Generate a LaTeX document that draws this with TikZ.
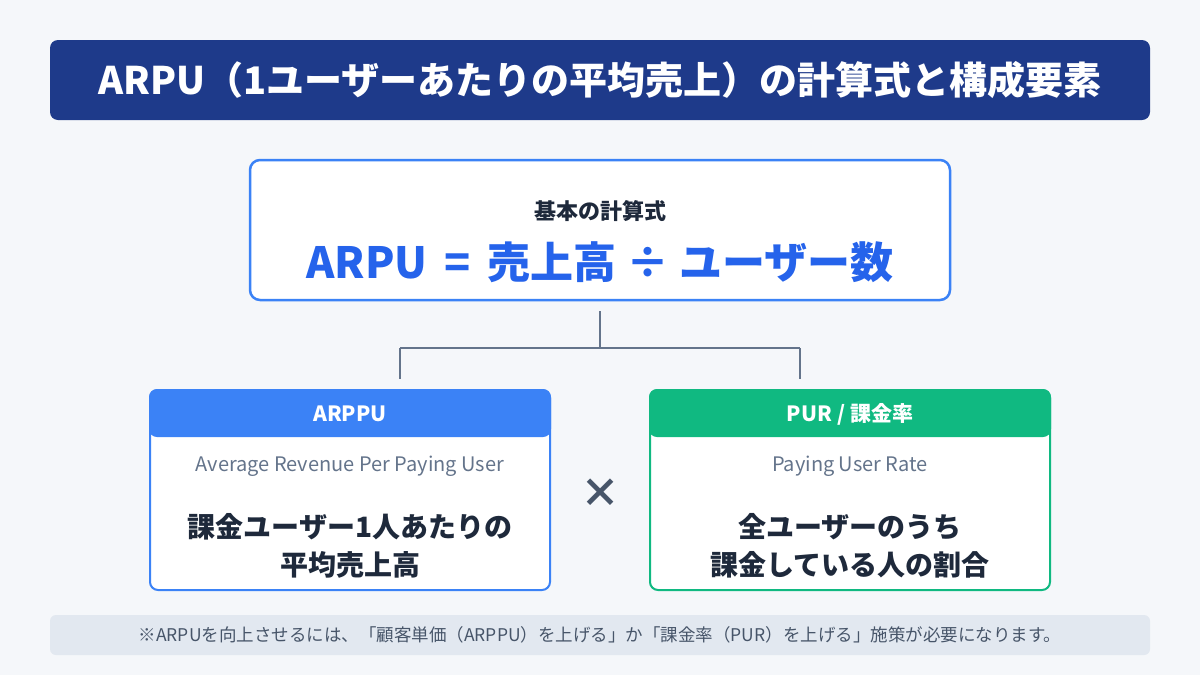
\documentclass[tikz,border=0pt]{standalone}
\usepackage{fontspec}
\setmainfont{Noto Sans CJK JP}
\usetikzlibrary{positioning}
\definecolor{PageBg}{HTML}{F5F7FA}
\definecolor{TitleBg}{HTML}{1E3A8A}
\definecolor{ArpuBlue}{HTML}{3B82F6}
\definecolor{FormulaBlue}{HTML}{2563EB}
\definecolor{PurGreen}{HTML}{10B981}
\definecolor{InkDark}{HTML}{1E293B}
\definecolor{InkGray}{HTML}{64748B}
\definecolor{NoteBg}{HTML}{E2E8F0}
\definecolor{NoteInk}{HTML}{475569}
\newcommand{\fs}[1]{\fontsize{#1}{#1}\selectfont}
\tikzset{
  panel/.style={draw=#1, line width=2pt, fill=white, rounded corners=8pt,
    minimum width=400pt, minimum height=200pt, inner sep=0pt},
  head/.style={text=white, font=\fs{21}\bfseries},
  sub/.style={text=InkGray, font=\fs{20}},
  body/.style={text=InkDark, font=\fs{28}\bfseries, align=center},
  link/.style={draw=InkGray, line width=2.5pt}
}
\begin{document}
\begin{tikzpicture}[x=1pt,y=-1pt]
  \fill[PageBg] (0,0) rectangle (1200,675);
  \useasboundingbox (0,0) rectangle (1200,675);

  % title bar
  \fill[TitleBg, rounded corners=8pt] (50,40) rectangle (1150,120);
  \node[text=white, font=\fs{38}\bfseries] (title) at (600,80)
    {ARPU（1ユーザーあたりの平均売上）の計算式と構成要素};

  % formula box
  \node[draw=ArpuBlue, line width=2.5pt, fill=white, rounded corners=10pt,
    minimum width=700pt, minimum height=140pt] (formula) at (600,230) {};
  \node[text=InkDark, font=\fs{22}\bfseries] (basic) at (600,211) {基本の計算式};
  \node[text=FormulaBlue, font=\fs{43}\bfseries] (eq) at (600,262)
    {ARPU \,=\, 売上高 ÷ ユーザー数};

  % panels
  \node[panel=ArpuBlue] (arppu) at (350,490) {};
  \node[panel=PurGreen] (pur) at (850,490) {};
  \fill[ArpuBlue, rounded corners=8pt] (arppu.north west) rectangle ([yshift=-48pt]arppu.north east);
  \fill[PurGreen, rounded corners=8pt] (pur.north west) rectangle ([yshift=-48pt]pur.north east);
  \fill[ArpuBlue] ([yshift=-10pt]arppu.north west) rectangle ([yshift=-30pt]arppu.north east);
  \fill[PurGreen] ([yshift=-10pt]pur.north west) rectangle ([yshift=-30pt]pur.north east);

  \node[head] (arppuhead) at (350,414) {ARPPU};
  \node[sub] (arppusub) at (350,466) {Average Revenue Per Paying User};
  \node[body] (arppubody) at (350,546) {課金ユーザー1人あたりの\\[10pt]平均売上高};

  \node[head] (purhead) at (850,414) {PUR / 課金率};
  \node[sub] (pursub) at (850,466) {Paying User Rate};
  \node[body] (purbody) at (850,546) {全ユーザーのうち\\[10pt]課金している人の割合};

  \node[text=NoteInk, font=\fs{40}\bfseries] (times) at (600,493) {×};

  % tree connector
  \coordinate (split) at (600,348);
  \draw[link] ([yshift=-10pt]formula.south) -- (split);
  \draw[link] (400,348) -- (800,348);
  \draw[link] (400,348) -- ([yshift=10pt]arppu.north -| 400,0);
  \draw[link] (800,348) -- ([yshift=10pt]pur.north -| 800,0);

  % note
  \fill[NoteBg, rounded corners=6pt] (50,615) rectangle (1150,655);
  \node[text=NoteInk, font=\fs{17.5}] (note) at (600,635)
    {※ARPUを向上させるには、「顧客単価（ARPPU）を上げる」か「課金率（PUR）を上げる」施策が必要になります。};
\end{tikzpicture}
\end{document}
